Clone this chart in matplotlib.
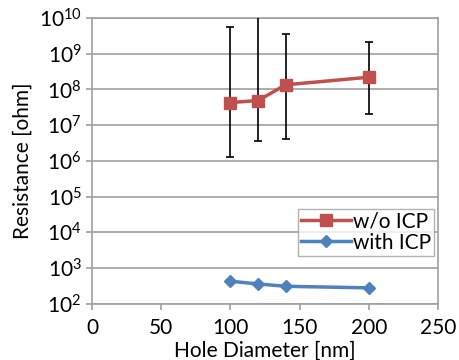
import matplotlib
matplotlib.use('Agg')
from matplotlib import pyplot as plt
from matplotlib.ticker import LogLocator, FixedLocator

plt.rcParams['font.family'] = ['Lato', 'DejaVu Sans']
plt.rcParams['mathtext.fontset'] = 'custom'
plt.rcParams['mathtext.rm'] = 'Lato'

# data
diameters = [100, 120, 140, 200]
res_wo_icp = [4.3e7, 4.9e7, 1.35e8, 2.2e8]
err_hi_wo = [5.6e9, 2.0e10, 3.6e9, 2.1e9]
err_lo_wo = [1.3e6, 3.7e6, 4.0e6, 2.0e7]
res_with_icp = [430, 360, 310, 280]

red = '#c0504d'
blue = '#4f81bd'
gray = '#a0a0a0'

fig = plt.figure(figsize=(4.6, 3.6), dpi=100)
ax = fig.add_axes([0.2, 0.156, 0.752, 0.794])

yerr = [[v - lo for v, lo in zip(res_wo_icp, err_lo_wo)],
        [hi - v for v, hi in zip(res_wo_icp, err_hi_wo)]]
ax.errorbar(diameters, res_wo_icp, yerr=yerr, fmt='none', ecolor='black',
            elinewidth=1.2, capsize=3, capthick=1.2, zorder=3)
ax.plot(diameters, res_wo_icp, color=red, lw=2.5, marker='s', ms=8,
        label='w/o ICP', zorder=4)
ax.plot(diameters, res_with_icp, color=blue, lw=2.5, marker='D', ms=6,
        label='with ICP', zorder=4)

ax.set_yscale('log')
ax.set_ylim(1e2, 1e10)
ax.set_xlim(0, 250)
ax.yaxis.set_major_locator(LogLocator(base=10, numticks=20))
ax.yaxis.set_minor_locator(FixedLocator([]))
ax.set_xticks([0, 50, 100, 150, 200, 250])

ax.grid(axis='y', color=gray, lw=1.2)
ax.set_axisbelow(True)
for s in ax.spines.values():
    s.set_color(gray)
    s.set_linewidth(1.2)
ax.tick_params(axis='both', colors=gray, labelcolor='black', labelsize=15,
               length=4, width=1.2)
ax.tick_params(axis='x', pad=6)

ax.set_xlabel('Hole Diameter [nm]', fontsize=15, labelpad=2)
ax.set_ylabel('Resistance [ohm]', fontsize=15, labelpad=4)

leg = ax.legend(loc='lower right', bbox_to_anchor=(0.99, 0.168), fontsize=15,
                frameon=True, fancybox=False, handlelength=2.4,
                handletextpad=0.1, borderpad=0.15, labelspacing=0.05,
                borderaxespad=0)
leg.get_frame().set_edgecolor(gray)
leg.get_frame().set_linewidth(1.0)

plt.savefig('out.png', dpi=100)
plt.close()
